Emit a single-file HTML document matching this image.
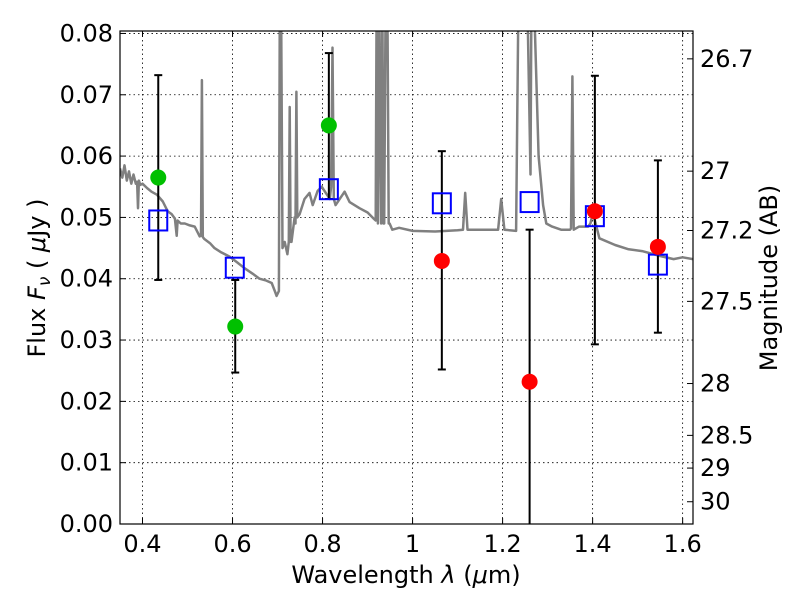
<!DOCTYPE html>
<html><head><meta charset="utf-8"><style>
body{margin:0;background:#fff;}
svg{display:block;font-family:"DejaVu Sans","Liberation Sans",sans-serif;}
</style></head><body>
<svg id="chart" width="800" height="600" viewBox="0 0 800 600" xmlns="http://www.w3.org/2000/svg">
<rect x="0" y="0" width="800" height="600" fill="#fff"/>
<g id="grid"></g>
<g id="spec"></g>
<g id="errs"></g>
<g id="pts"></g>
<g id="axes"></g>
<text x="406" y="583" font-size="24" text-anchor="middle">Wavelength  <tspan font-style="italic">λ</tspan> (<tspan font-style="italic">μ</tspan>m)</text>
<text transform="translate(45,278) rotate(-90)" font-size="24" text-anchor="middle">Flux  <tspan font-style="italic">F</tspan><tspan font-style="italic" font-size="17" dy="5">ν</tspan><tspan dy="-5">  ( </tspan><tspan font-style="italic">μ</tspan>Jy )</text>
<text transform="translate(777,278) rotate(-90)" font-size="24" text-anchor="middle">Magnitude (AB)</text>
</svg>
<script>
const xTicks=[0.4,0.6,0.8,1.0,1.2,1.4,1.6];
const xTickLabels=["0.4","0.6","0.8","1","1.2","1.4","1.6"];
const yTicks=[0,0.01,0.02,0.03,0.04,0.05,0.06,0.07,0.08];
const yTickLabels=["0.00","0.01","0.02","0.03","0.04","0.05","0.06","0.07","0.08"];
const magTicks=[26.7,27,27.2,27.5,28,28.5,29,30];
const magTickLabels=["26.7","27","27.2","27.5","28","28.5","29","30"];
const modelWave=[0.435,0.605,0.814,1.065,1.26,1.405,1.545];
const modelFlux=[0.0495,0.0418,0.0546,0.0523,0.0525,0.0502,0.0423];
const greenWave=[0.435,0.606,0.814];
const greenFlux=[0.0565,0.0322,0.065];
const greenHi=[0.0732,0.0398,0.0768];
const greenLo=[0.0398,0.0247,0.053];
const redWave=[1.065,1.26,1.405,1.545];
const redFlux=[0.0429,0.0232,0.051,0.0452];
const redHi=[0.0608,0.048,0.0731,0.0593];
const redLo=[0.0252,0,0.0293,0.0312];
const specWave=[0.35,0.355,0.36,0.365,0.37,0.375,0.38,0.385,0.388,0.39,0.392,0.395,0.40,0.41,0.42,0.432,0.445,0.456,0.465,0.472,0.476,0.478,0.485,0.494,0.505,0.516,0.527,0.530,0.532,0.534,0.537,0.55,0.56,0.575,0.594,0.61,0.627,0.645,0.66,0.675,0.687,0.694,0.698,0.703,0.705,0.708,0.711,0.716,0.722,0.725,0.727,0.729,0.731,0.738,0.740,0.742,0.744,0.749,0.76,0.771,0.778,0.789,0.798,0.816,0.819,0.822,0.825,0.829,0.849,0.86,0.882,0.9,0.915,0.918,0.92,0.923,0.926,0.93,0.933,0.935,0.937,0.94,0.944,0.947,0.949,0.955,0.97,1.0,1.05,1.1,1.112,1.117,1.122,1.15,1.19,1.197,1.204,1.23,1.235,1.24,1.255,1.262,1.264,1.266,1.27,1.28,1.29,1.297,1.31,1.33,1.35,1.352,1.355,1.358,1.37,1.39,1.395,1.40,1.405,1.415,1.45,1.48,1.51,1.55,1.58,1.6,1.623];
const specFlux=[0.058,0.0565,0.0585,0.056,0.0575,0.0555,0.057,0.0555,0.0558,0.0515,0.056,0.0553,0.0555,0.0548,0.0542,0.0537,0.0526,0.051,0.0505,0.0498,0.047,0.0495,0.049,0.049,0.0487,0.0485,0.0469,0.047,0.0724,0.0468,0.0465,0.0458,0.045,0.0443,0.0436,0.0427,0.0417,0.0408,0.040,0.0397,0.0393,0.038,0.0372,0.038,0.085,0.085,0.045,0.046,0.044,0.046,0.068,0.046,0.046,0.050,0.049,0.0705,0.050,0.0505,0.053,0.054,0.052,0.0543,0.055,0.053,0.055,0.0777,0.053,0.052,0.0542,0.0525,0.0515,0.0508,0.0497,0.0495,0.085,0.049,0.085,0.049,0.085,0.049,0.049,0.085,0.085,0.049,0.049,0.048,0.0483,0.0478,0.0477,0.0479,0.048,0.054,0.048,0.048,0.048,0.053,0.048,0.0478,0.085,0.085,0.085,0.057,0.085,0.085,0.085,0.06,0.052,0.049,0.0485,0.048,0.048,0.0482,0.073,0.048,0.0485,0.0485,0.049,0.0505,0.0495,0.0466,0.0455,0.0448,0.0445,0.0437,0.0432,0.0435,0.0432];

const NS="http://www.w3.org/2000/svg";
const X0=120,X1=693,Y0=31,Y1=524;
const xmin=0.35,xmax=1.623,ymin=0,ymax=0.0804;
function sx(v){return X0+(v-xmin)/(xmax-xmin)*(X1-X0);}
function sy(v){return Y1-(v-ymin)/(ymax-ymin)*(Y1-Y0);}
function mk(tag,attrs,parent){const e=document.createElementNS(NS,tag);for(const k in attrs)e.setAttribute(k,attrs[k]);parent.appendChild(e);return e;}
const grid=document.getElementById('grid'),axes=document.getElementById('axes');
xTicks.forEach((t,i)=>{
  const l=mk('line',{x1:sx(t),x2:sx(t),y1:Y0,y2:Y1,stroke:'#000','stroke-width':0.8,'stroke-dasharray':'1.5,3'},grid);
  
  
  mk('line',{x1:sx(t),x2:sx(t),y1:Y1,y2:Y1-6,stroke:'#000'},axes);
  mk('line',{x1:sx(t),x2:sx(t),y1:Y0,y2:Y0+6,stroke:'#000'},axes);
  const tx=mk('text',{x:sx(t),y:Y1+28,'font-size':24,'text-anchor':'middle'},axes);
  tx.textContent=xTickLabels[i];
  
  
});
yTicks.forEach((t,i)=>{
  if(t>0){const l=mk('line',{x1:X0,x2:X1,y1:sy(t),y2:sy(t),stroke:'#000','stroke-width':0.8,'stroke-dasharray':'1.5,3'},grid);
  
  }
  mk('line',{x1:X0,x2:X0+6,y1:sy(t),y2:sy(t),stroke:'#000'},axes);
  const tx=mk('text',{x:X0-7,y:sy(t)+8,'font-size':24,'text-anchor':'end'},axes);
  tx.textContent=yTickLabels[i];
  
  
});
magTicks.forEach((m,i)=>{
  const f=Math.pow(10,(23.9-m)/2.5);
  mk('line',{x1:X1,x2:X1-6,y1:sy(f),y2:sy(f),stroke:'#000'},axes);
  const tx=mk('text',{x:X1+7,y:sy(f)+8,'font-size':24,'text-anchor':'start'},axes);
  tx.textContent=magTickLabels[i];
  
  
});
mk('rect',{x:X0,y:Y0,width:X1-X0,height:Y1-Y0,fill:'none',stroke:'#000','stroke-width':1.2},axes);
const specG=document.getElementById('spec');
const cp=mk('clipPath',{id:'clip'},specG);mk('rect',{x:X0,y:Y0,width:X1-X0,height:Y1-Y0},cp);
const d=specWave.map((w,i)=>(i?'L':'M')+sx(w).toFixed(1)+','+sy(specFlux[i]).toFixed(1)).join('');
const sp=mk('path',{d:d,fill:'none',stroke:'#808080','stroke-width':2.5,'stroke-linejoin':'round','clip-path':'url(#clip)'},specG);


const errs=document.getElementById('errs');
function eb(w,lo,hi){
  const x=sx(w);
  const g=mk('g',{},errs);
  
  
  mk('line',{x1:x,x2:x,y1:sy(lo),y2:sy(hi),stroke:'#000','stroke-width':2},g);
  mk('line',{x1:x-4,x2:x+4,y1:sy(hi),y2:sy(hi),stroke:'#000','stroke-width':2},g);
  if(lo>0)mk('line',{x1:x-4,x2:x+4,y1:sy(lo),y2:sy(lo),stroke:'#000','stroke-width':2},g);
}
greenWave.forEach((w,i)=>eb(w,greenLo[i],greenHi[i]));
redWave.forEach((w,i)=>eb(w,redLo[i],redHi[i]));
const pts=document.getElementById('pts');
modelWave.forEach((w,i)=>{
  const r=mk('rect',{x:sx(w)-9,y:sy(modelFlux[i])-10,width:18,height:20,fill:'none',stroke:'#0000ff','stroke-width':2},pts);
  
  
});
greenWave.forEach((w,i)=>{
  const c=mk('circle',{cx:sx(w),cy:sy(greenFlux[i]),r:8,fill:'#00c000'},pts);
  
  
});
redWave.forEach((w,i)=>{
  const c=mk('circle',{cx:sx(w),cy:sy(redFlux[i]),r:8,fill:'#ff0000'},pts);
  
  
});
</script>
</body></html>
